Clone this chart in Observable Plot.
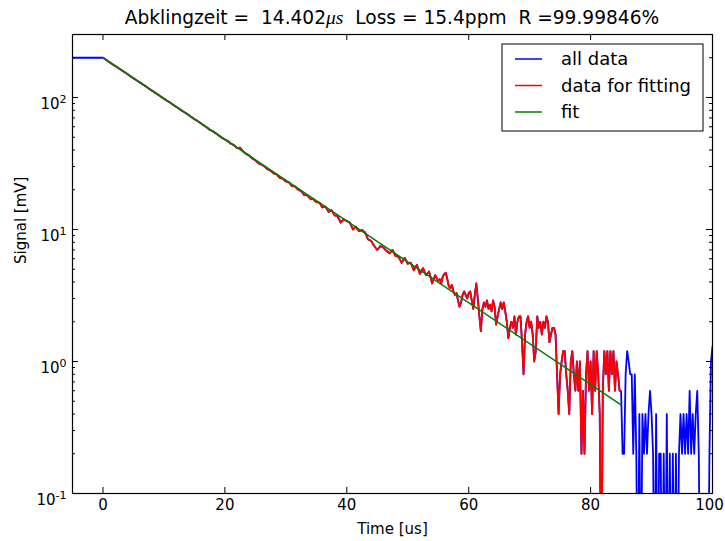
<!DOCTYPE html>
<html><head><meta charset="utf-8">
<script src="https://cdn.jsdelivr.net/npm/d3@7"></script>
<script src="https://cdn.jsdelivr.net/npm/@observablehq/plot@0.6"></script>
<style>body{margin:0;background:#fff} svg{display:block}</style>
</head><body><div id="chart"></div>
<script>
// ---- data ----
const leadTimes = [-5, 0];
const leadValues = [200, 200];

const redAStart = 0, redAStep = 0.5;
const redAValues = [200,193,186,179.5,173.5,167,161.5,156,150.5,145,140,135,130.5,126,121.5,117,113,109,105.5,101.5,
  98,94.5,91.5,88,85,82,79,76.5,74,71,68.5,66.5,64,61.5,59.5,57,55.5,53.5,51.5,49.5,
  48,46.8,44.6,43.6,41.3,41.6,39.0,37.4,36.3,34.5,33.4,31.8,30.9,30.1,28.6,27.9,26.6,26.1,24.6,24.3,
  23.1,22.8,21.3,21.2,20.0,19.6,18.3,18.2,17.1,17.0,16.1,16.0,14.7,14.9,13.6,14.0,12.8,12.6,11.3,11.9,
  11.6,11.3,10.0,10.5,9.7,9.9,9.5,8.4,8.2,7.5,7.0,7.5,7.3,6.9,6.6,7.0,6.3,6.2,5.6,6.1,
  5.5,5.6,4.9,5.4,4.6,5.1,4.5,4.8,3.9,4.5,4.1];

const redBStart = 55.25, redBStep = 0.25;
const redBValues = [4.2,3.9,4.4,4.6,4.7,4.2,3.7,3.6,3.8,3.4,3.2,3.3,2.9,2.6,2.8,3.2,3.4,3.2,3.0,3.3,
  3.4,2.9,2.5,3.2,3.9,3.0,2.2,1.7,2.5,2.8,2.6,2.9,2.5,2.7,2.4,2.9,2.6,1.9,2.2,2.5,
  2.8,2.5,2.8,2.4,2.0,1.5,1.8,2.0,1.8,2.2,1.6,2.0,2.2,2.2,1.4,0.8,1.6,2.0,2.2,1.8,
  2.0,1.6,1.0,1.2,2.2,1.8,2.0,1.6,2.0,1.8,2.2,2.0,1.4,1.6,1.8,1.8,1.6,0.8,0.4,0.8,
  1.0,1.2,1.2,0.8,0.6,0.4,1.0,1.2,0.8,0.6,1.0,0.6,1.0,0.2,0.6,0.2,0.8,1.2,0.6,1.0,
  0.4,1.2,0.6,1.2,0.8,0.4,0,0.6,1.2,0.8,1.2,0.6,1.2,0.8,1.2,0.6,1.0,0.8,0.6,0.6];

const tailStart = 85.25, tailStep = 0.25;
const tailValues = [0.2,0.2,0.8,1.2,1.0,0.8,0.8,0.2,0.8,0.2,0,0.4,0,0.4,0.2,0.4,0.2,0.4,0.6,0.4,
  0.2,0,0.4,0,0.2,0.2,0,0.2,0,0.4,0,0.2,0,0.2,0,0.2,0,0.2,0.4,0.2,
  0.4,0.2,0.4,0.2,0.6,0.2,0.4,0.2,0.4,0.6,0.2,0,0,0,0,0,0,0.2,1.0,1.3];

const fitTimes = [0, 85];
const fitValues = [200, 0.47];

const xTicks = [0, 20, 40, 60, 80, 100];
const yMajor = [0.1, 1, 10, 100];
const yMinor = [0.2,0.3,0.4,0.5,0.6,0.7,0.8,0.9,2,3,4,5,6,7,8,9,20,30,40,50,60,70,80,90,200];
const yTickExponents = ["-1", "0", "1", "2"];
const legendLabels = ["all data", "data for fitting", "fit"];
const legendColors = ["#0000ff", "#ff0000", "#008000"];
const titleParts = ["Abklingzeit =  14.402", "\u03BCs", "  Loss = 15.4ppm  R =99.99846%"];
const xLabel = "Time [us]";
const yLabel = "Signal [mV]";

// ---- build tables ----
const seq = (start, step, vals) => vals.map((v, i) => ({t: start + i * step, v}));
const red = seq(redAStart, redAStep, redAValues).concat(seq(redBStart, redBStep, redBValues));
const lead = leadTimes.map((t, i) => ({t, v: leadValues[i]}));
const blue = lead.concat(red, seq(tailStart, tailStep, tailValues));
const fit = fitTimes.map((t, i) => ({t, v: fitValues[i]}));

const W = 725, H = 541, ML = 72, MR = 13, MT = 34, MB = 48;
const FW = W - ML - MR, FH = H - MT - MB;
const yv = d => Math.max(d.v, 0.01);

const chart = Plot.plot({
  width: W, height: H,
  marginLeft: ML, marginRight: MR, marginTop: MT, marginBottom: MB,
  style: {fontFamily: "DejaVu Sans", fontSize: "15px", color: "black", background: "white", overflow: "visible"},
  x: {domain: [-5, 100]},
  y: {type: "log", domain: [0.1, 300]},
  marks: [
    Plot.line(blue, {x: "t", y: yv, stroke: legendColors[0], strokeWidth: 1.8, clip: true}),
    Plot.line(red, {x: "t", y: yv, stroke: legendColors[1], strokeWidth: 1.8, clip: true}),
    Plot.line(fit, {x: "t", y: "v", stroke: legendColors[2], strokeWidth: 1.5, clip: true}),
    Plot.frame({stroke: "black", strokeWidth: 1.2}),
    Plot.tickX(xTicks, {x: d => d, insetTop: FH - 6, stroke: "black"}),
    Plot.tickX(xTicks, {x: d => d, insetBottom: FH - 6, stroke: "black"}),
    Plot.tickY(yMajor, {y: d => d, insetRight: FW - 6, stroke: "black"}),
    Plot.tickY(yMajor, {y: d => d, insetLeft: FW - 6, stroke: "black"}),
    Plot.tickY(yMinor, {y: d => d, insetRight: FW - 3, stroke: "black"}),
    Plot.tickY(yMinor, {y: d => d, insetLeft: FW - 3, stroke: "black"}),
    Plot.axisX({ticks: xTicks, tickSize: 0, tickPadding: 6, label: null, tickFormat: d => String(d)}),
    Plot.axisY({ticks: yMajor, tickSize: 0, tickPadding: 6, label: null, tickFormat: d => "10"}),
    Plot.text([xLabel], {text: d => d, frameAnchor: "bottom", dy: 40, fontSize: 15}),
    Plot.text([yLabel], {text: d => d, frameAnchor: "left", dx: -51, rotate: -90, fontSize: 15})
  ]
});
document.getElementById("chart").appendChild(chart);

const svg = d3.select(chart);
// keep the last x label inside the picture, as in the reference
const xLabelNodes = svg.selectAll('g[aria-label="x-axis tick label"] text').nodes();
if (xLabelNodes.length) d3.select(xLabelNodes[xLabelNodes.length - 1]).attr("dx", -3);
// ---- superscript exponents on the log axis labels ----
svg.selectAll('g[aria-label="y-axis tick label"] text').each(function(d, i) {
  const t = d3.select(this);
  t.text(null);
  t.append("tspan").text("10");
  t.append("tspan").attr("dy", "-0.55em").attr("font-size", 11).text(yTickExponents[i]);
  t.attr("dy", "0.45em");
});

// ---- title and legend ----
const title = svg.append("text")
  .attr("x", ML + FW / 2).attr("y", 24)
  .attr("text-anchor", "middle")
  .attr("font-family", "DejaVu Sans").attr("font-size", 18.6).attr("fill", "black");
title.append("tspan").text(titleParts[0]);
title.append("tspan").attr("font-family", "Liberation Serif").attr("font-style", "italic").attr("font-size", 19.5).text(titleParts[1]);
title.append("tspan").text(titleParts[2]);

const lg = svg.append("g");
lg.append("rect").attr("x", 502).attr("y", 44).attr("width", 201).attr("height", 87)
  .attr("fill", "white").attr("stroke", "black").attr("stroke-width", 1);
legendLabels.forEach((lab, i) => {
  const cy = 59 + i * 26.5;
  lg.append("line").attr("x1", 515).attr("x2", 542).attr("y1", cy).attr("y2", cy)
    .attr("stroke", legendColors[i]).attr("stroke-width", 1.5);
  lg.append("text").attr("x", 561).attr("y", cy).attr("dy", "0.35em")
    .attr("text-anchor", "start")
    .attr("font-family", "DejaVu Sans").attr("font-size", 18).attr("fill", "black").text(lab);
});
</script>
</body></html>
